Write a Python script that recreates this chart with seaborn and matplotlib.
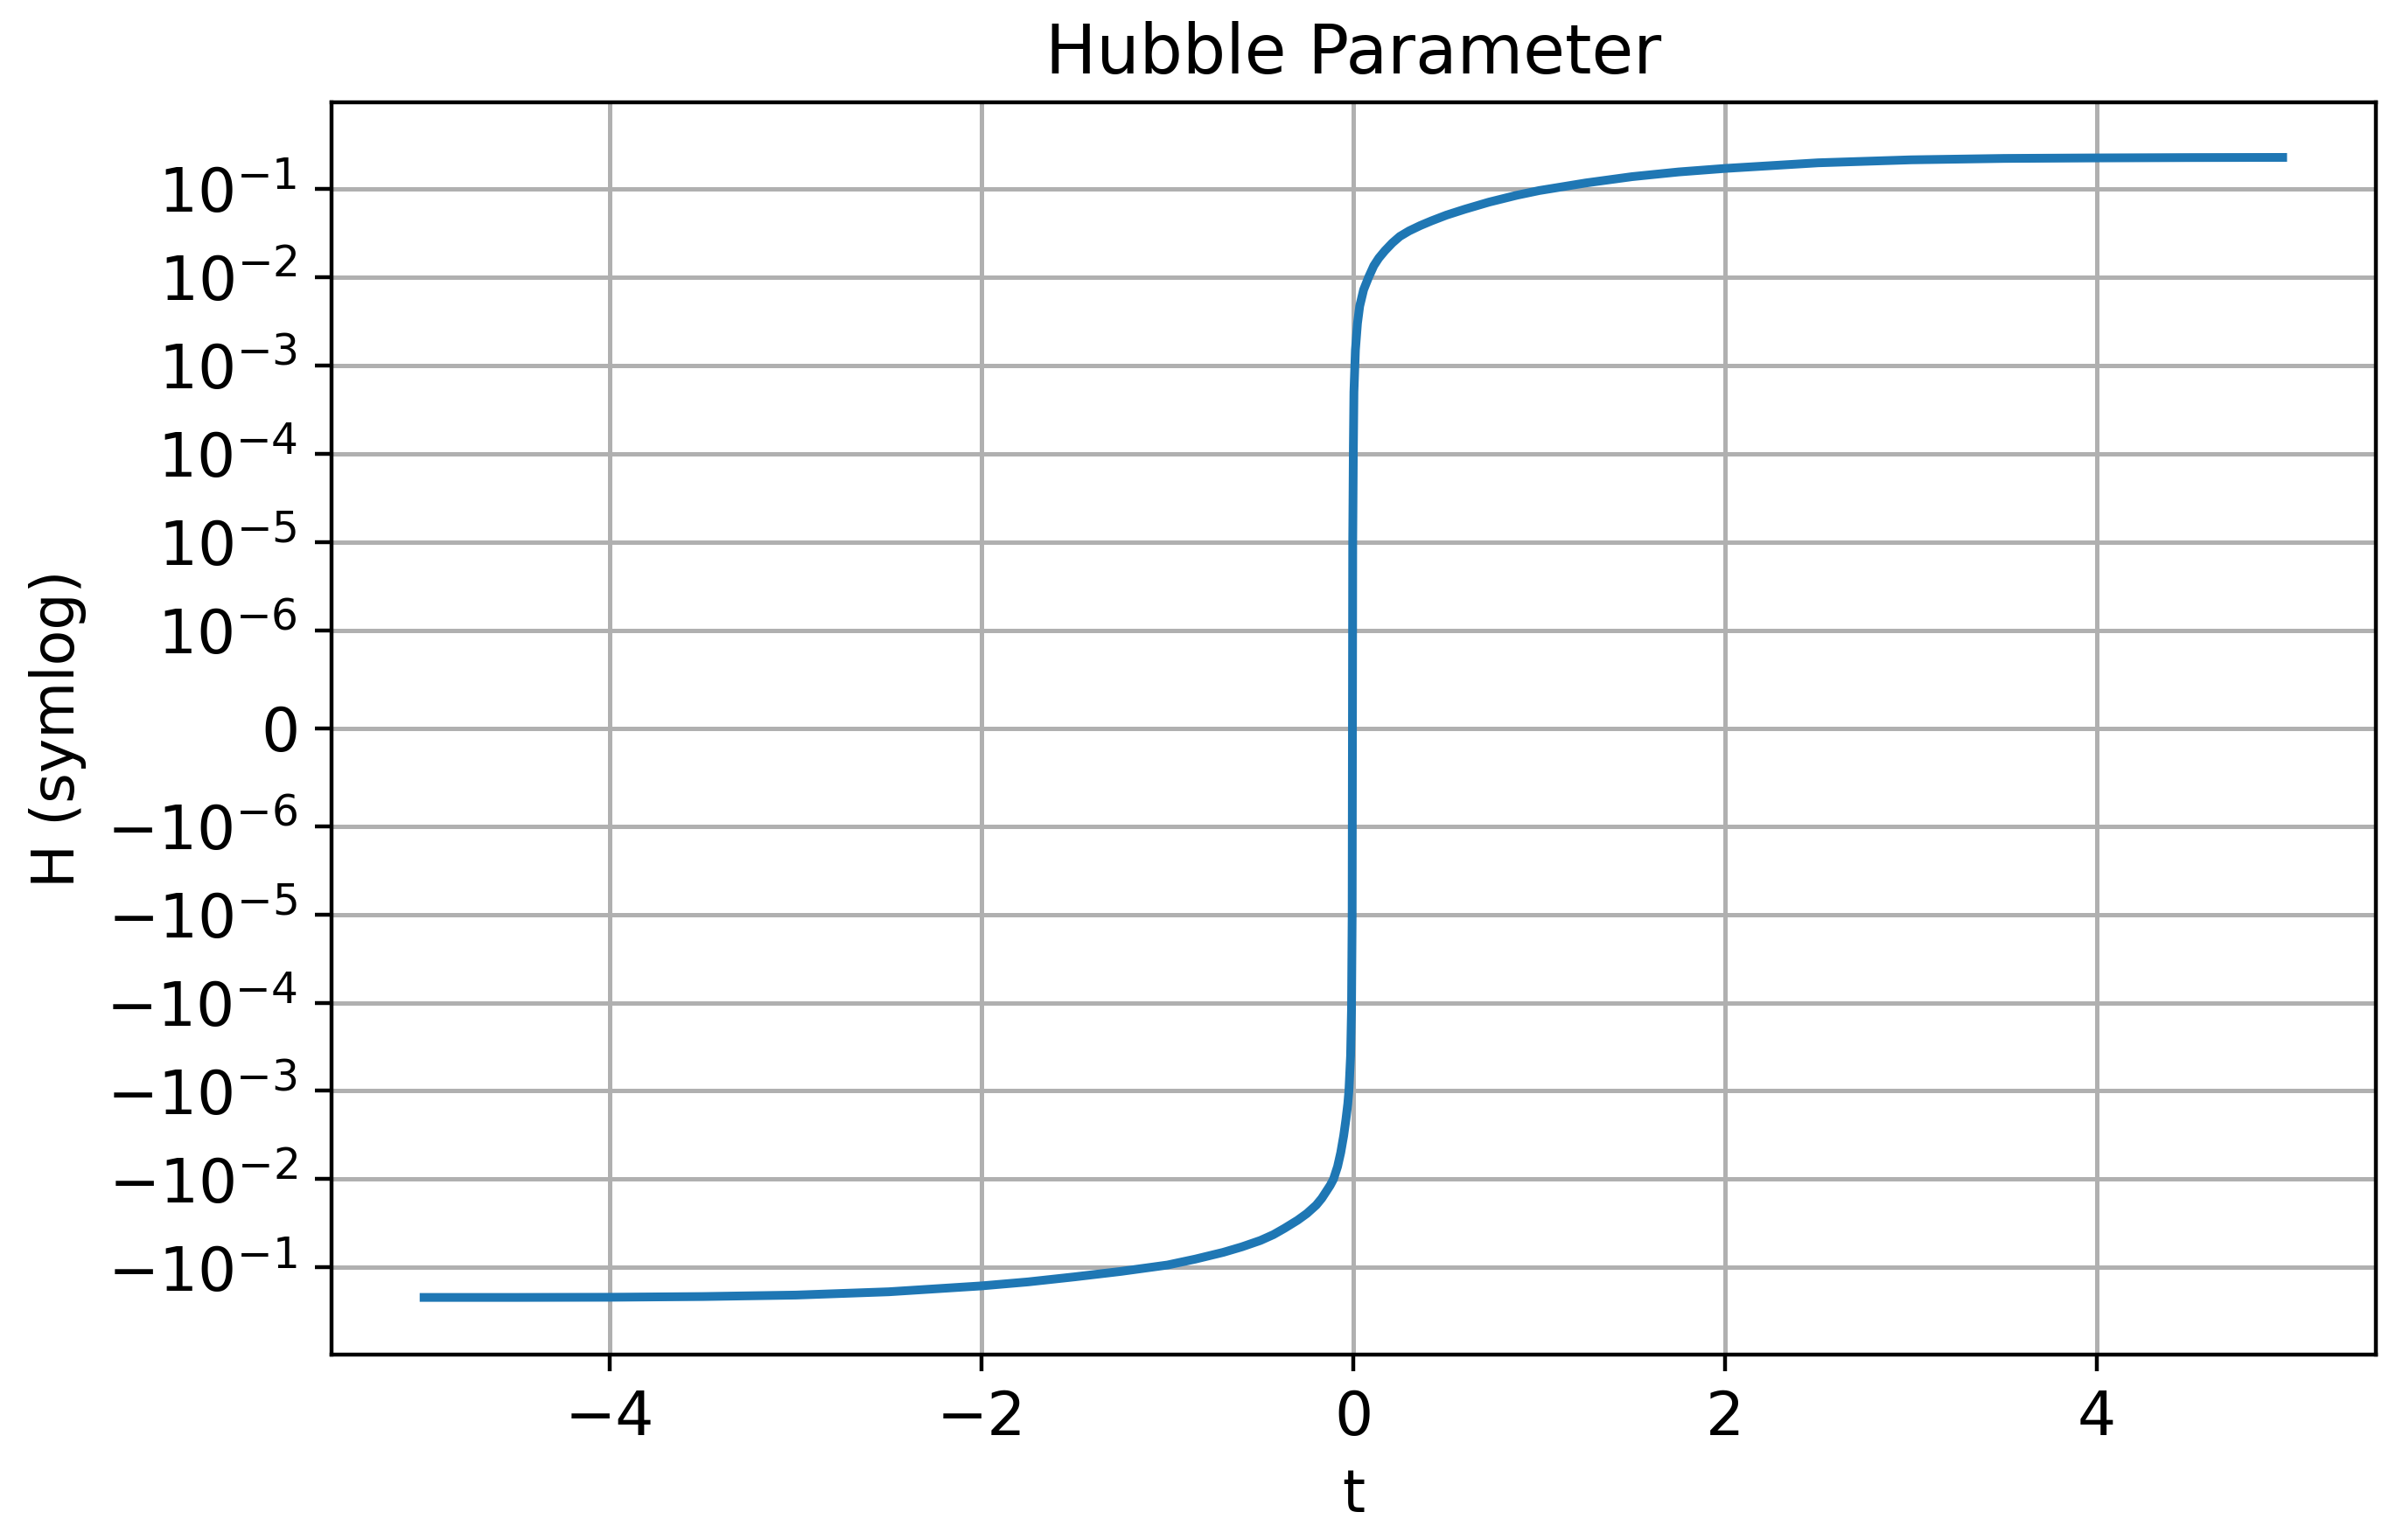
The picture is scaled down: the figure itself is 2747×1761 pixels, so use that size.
import numpy as np
import pandas as pd
import matplotlib
matplotlib.use("Agg")
import matplotlib.pyplot as plt
import seaborn as sns

# Time samples
t_values = [-5.0, -4.5, -4.0, -3.5, -3.0, -2.5, -2.0, -1.75, -1.5, -1.25, -1.0,
            -0.85, -0.7, -0.6, -0.5, -0.43, -0.37, -0.3, -0.25, -0.2, -0.17,
            -0.146, -0.125, -0.107, -0.085, -0.068, -0.052, -0.040, -0.030,
            -0.024, -0.015, -0.010, -0.0065, -0.005, -0.0035, 0.0, 0.003,
            0.011, 0.022, 0.034, 0.055, 0.082, 0.11, 0.137, 0.17, 0.21, 0.25,
            0.3, 0.36, 0.42, 0.5, 0.6, 0.73, 0.88, 1.0, 1.25, 1.5, 1.75, 2.0,
            2.5, 3.0, 3.5, 4.0, 4.5, 5.0]

# Hubble parameter values
h_values = [-0.219, -0.219, -0.218, -0.214, -0.206, -0.189, -0.162, -0.146,
            -0.128, -0.111, -0.094, -0.0805, -0.0675, -0.0585, -0.0495, -0.0425,
            -0.0360, -0.0292, -0.0245, -0.0197, -0.0165, -0.0138, -0.0118,
            -0.0100, -0.0072, -0.0050, -0.0032, -0.0021, -0.0014, -0.0010,
            -0.0004, -0.00012, -0.00001, 0.0, 0.00001, 0.00012, 0.0005,
            0.0015, 0.0030, 0.0047, 0.0072, 0.0100, 0.0135, 0.0165, 0.0200,
            0.0245, 0.0290, 0.0335, 0.0385, 0.0435, 0.0505, 0.0590, 0.0710,
            0.0850, 0.0960, 0.117, 0.138, 0.156, 0.171, 0.198, 0.214, 0.222,
            0.225, 0.227, 0.228]

df = pd.DataFrame({"t": t_values, "H": h_values})

DPI = 400
fig = plt.figure(figsize=(2747 / DPI, 1761 / DPI), dpi=DPI)
ax = fig.add_axes([0.1378, 0.1205, 0.9886 - 0.1378, 0.9333 - 0.1205])

ax.set_yscale("symlog", linthresh=1e-6)

sns.lineplot(data=df, x="t", y="H", ax=ax, color="#1f77b4", linewidth=1.8,
             estimator=None, sort=False)

ax.set_yscale("symlog", linthresh=1e-6)
ax.relim()
ax.autoscale_view()
ylo, yhi = ax.get_ylim()
ax.set_ylim(ylo, min(yhi, 0.95))
ax.set_xlim(-5.5, 5.5)
ax.grid(True, color="#b0b0b0", linewidth=0.9)
ax.set_axisbelow(True)

ax.set_title("Hubble Parameter", fontsize=14)
ax.set_xlabel("t", fontsize=12)
ax.set_ylabel("H (symlog)", fontsize=12)
ax.tick_params(labelsize=12.5)

fig.savefig("out.png", dpi=DPI)
